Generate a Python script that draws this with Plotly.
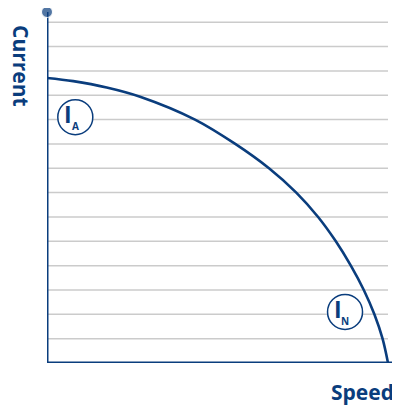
import plotly.graph_objects as go

# Data (speed normalised 0..1, current in grid units)
speed = [0.0, 0.077, 0.175, 0.273, 0.434, 0.552, 0.651, 0.731, 0.795, 0.847, 0.891, 0.929, 0.960, 0.984, 1.0]
current = [11.71, 11.58, 11.32, 10.94, 10.0, 9.0, 8.0, 7.0, 6.0, 5.0, 4.0, 3.0, 2.0, 1.0, 0.0]
grid_levels = list(range(1, 15))
x_max = 1.0293
y_max = 14.42
labels = {"IA": ("I", "A", 0.083, 10.1), "IN": ("I", "N", 0.874, 2.1)}

BLUE = "#0a3d7d"
GRID = "#cbcbcb"
FONT = "Open Sans"

fig = go.Figure()

# gridlines
for lv in grid_levels:
    fig.add_shape(type="line", x0=0, x1=1.0, y0=lv, y1=lv, xref="x", yref="y",
                  line=dict(color=GRID, width=1.5), layer="below")

# curve
fig.add_trace(go.Scatter(x=speed, y=current, mode="lines",
                         line=dict(color=BLUE, width=2.6, shape="spline", smoothing=1.0),
                         hoverinfo="skip", cliponaxis=False))

# axes with end dots
fig.add_trace(go.Scatter(x=[0, 0], y=[0, y_max], mode="lines+markers",
                         line=dict(color=BLUE, width=3),
                         marker=dict(size=[0, 11], color=BLUE),
                         cliponaxis=False, hoverinfo="skip"))
fig.add_trace(go.Scatter(x=[0, x_max], y=[0, 0], mode="lines+markers",
                         line=dict(color=BLUE, width=3),
                         marker=dict(size=[0, 11], color=BLUE),
                         cliponaxis=False, hoverinfo="skip"))

# circled labels
for key, (main, sub, cx, cy) in labels.items():
    fig.add_shape(type="circle", xref="x", yref="y", xsizemode="pixel", ysizemode="pixel",
                  xanchor=cx, yanchor=cy, x0=-17.5, x1=17.5, y0=-17.5, y1=17.5,
                  line=dict(color=BLUE, width=1.5), fillcolor="white")
    fig.add_annotation(x=cx, y=cy, xref="x", yref="y", text="<b>%s</b>" % main,
                       showarrow=False, font=dict(family=FONT, size=23, color=BLUE),
                       xshift=-7, yshift=3)
    fig.add_annotation(x=cx, y=cy, xref="x", yref="y", text="<b>%s</b>" % sub,
                       showarrow=False, font=dict(family=FONT, size=10, color=BLUE),
                       xshift=0, yshift=-9)

# axis titles
fig.add_annotation(x=-0.074, y=0.846, xref="paper", yref="paper", text="<b>Current</b>",
                   textangle=90, showarrow=False, xanchor="center", yanchor="middle",
                   font=dict(family=FONT, size=21, color=BLUE))
fig.add_annotation(x=0.899, y=-0.082, xref="paper", yref="paper", text="<b>Speed</b>",
                   showarrow=False, xanchor="center", yanchor="middle",
                   font=dict(family=FONT, size=21, color=BLUE))

# the page body adds an 8px offset, so the figure is sized to the visible window area
fig.update_layout(
    width=392, height=399, autosize=False,
    margin=dict(l=39, r=2, t=4, b=44),
    paper_bgcolor="white", plot_bgcolor="white",
    showlegend=False,
    xaxis=dict(range=[0, x_max], visible=False, fixedrange=True),
    yaxis=dict(range=[0, y_max], visible=False, fixedrange=True),
)

fig.write_html("out.html")
